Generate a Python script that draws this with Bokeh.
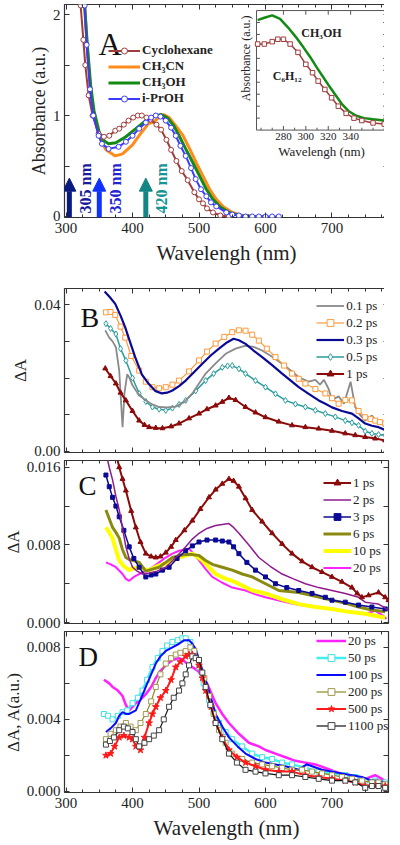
import math
from bokeh.plotting import figure
from bokeh.layouts import column
from bokeh.models import (Range1d, LinearAxis, FixedTicker, PrintfTickFormatter,
                          Legend, LegendItem, Label, Arrow, NormalHead)
from bokeh.core.properties import value
from bokeh.embed import file_html
from bokeh.resources import INLINE

SERIF = "Liberation Serif"

# ---------------- Panel A : steady-state absorption ----------------
cyc_wl = [320, 322, 326, 329, 334, 340, 349, 357, 365, 374, 380, 387, 394, 401, 408, 414, 421, 427, 436, 443,
          451, 458, 466, 474, 483, 493, 500, 506, 512, 521, 532, 545]
cyc_ab = [2.25, 2.09, 1.75, 1.50, 1.20, 1.00, 0.82, 0.79, 0.80, 0.85, 0.87, 0.91, 0.95, 0.98, 1.00, 1.00, 0.98, 0.96, 0.91, 0.86,
          0.76, 0.66, 0.55, 0.45, 0.36, 0.24, 0.17, 0.13, 0.08, 0.04, 0.01, 0.0]
acn_wl = [324, 328, 332, 337, 342, 350, 360, 374, 385, 400, 412, 424, 430, 440, 447, 455, 465, 476, 486, 496,
          506, 516, 526, 536, 550, 565, 585, 600]
acn_ab = [2.30, 2.09, 1.65, 1.25, 1.00, 0.79, 0.66, 0.60, 0.62, 0.71, 0.82, 0.92, 0.93, 0.98, 1.01, 0.98, 0.90, 0.80, 0.67, 0.53,
          0.40, 0.27, 0.17, 0.10, 0.04, 0.01, 0.0, 0.0]
meoh_wl = [324, 328, 332, 337, 342, 350, 357, 364, 375, 390, 405, 420, 432, 443, 452, 462, 470, 480, 491, 501,
           511, 521, 531, 545, 560, 580, 600]
meoh_ab = [2.30, 2.09, 1.70, 1.30, 1.05, 0.83, 0.75, 0.72, 0.73, 0.79, 0.87, 0.95, 0.99, 1.01, 0.98, 0.90, 0.80, 0.67, 0.53, 0.40,
           0.27, 0.17, 0.10, 0.04, 0.01, 0.0, 0.0]
ipr_wl = [322, 328, 331, 336, 341, 349, 354, 364, 379, 390, 400, 410, 420, 428, 435, 442, 450, 458, 465, 472,
          480, 488, 495, 503, 511, 518, 526, 541, 550, 560, 570, 580, 590, 600, 610, 620]
ipr_ab = [2.30, 2.09, 1.70, 1.26, 1.00, 0.80, 0.72, 0.67, 0.69, 0.74, 0.80, 0.87, 0.93, 0.98, 1.00, 0.99, 0.95, 0.88, 0.80, 0.70,
          0.60, 0.48, 0.37, 0.27, 0.20, 0.14, 0.10, 0.04, 0.02, 0.01, 0.0, 0.0, 0.0, 0.0, 0.0, 0.0]
solvent_labels = ["Cyclohexane", "CH\u2083CN", "CH\u2083OH", "i-PrOH"]

exc_wl = [305, 350, 420]
exc_labels = ["305 nm", "350 nm", "420 nm"]
exc_tip = 0.38

# inset (normalised to inset height)
ins_meoh_wl = [257, 263, 270, 277, 284, 291, 298, 304, 310, 315, 320, 326, 332, 338, 345, 352, 360, 370]
ins_meoh_ab = [0.92, 0.94, 0.96, 0.93, 0.86, 0.78, 0.69, 0.61, 0.52, 0.45, 0.38, 0.30, 0.22, 0.16, 0.12, 0.10, 0.09, 0.08]
ins_cyc_wl = [257, 263, 270, 275, 280, 286, 293, 300, 306, 311, 317, 323, 329, 336, 343, 350, 360, 370]
ins_cyc_ab = [0.72, 0.72, 0.74, 0.76, 0.76, 0.72, 0.65, 0.55, 0.48, 0.41, 0.34, 0.27, 0.20, 0.14, 0.10, 0.08, 0.06, 0.05]
ins_ticks = [280, 300, 320, 340]
ins_minor = [260, 270, 290, 310, 330, 350, 360, 370]
ins_yticks = [0.1, 0.2, 0.3, 0.4, 0.5, 0.6, 0.7, 0.8, 0.9]

# ---------------- Panel B ----------------
b01_wl = [359, 365, 370, 375, 380, 385, 388, 392, 395, 400, 405, 412, 420, 430, 440, 452, 465, 478, 490, 500,
          510, 525, 540, 555, 570, 582, 595, 610, 625, 640, 650, 665, 675, 682, 688, 695, 700, 710, 718, 728,
          735, 742, 750, 760, 768, 775, 783]
b01_da = [0.0330, 0.0310, 0.0300, 0.0284, 0.0220, 0.0066, 0.0160, 0.0210, 0.0202, 0.0180,
          0.0166, 0.0150, 0.0139, 0.0128, 0.0121, 0.0120, 0.0122, 0.0135, 0.0158, 0.0185,
          0.0212, 0.0240, 0.0266, 0.0280, 0.0288, 0.0285, 0.0275, 0.0258, 0.0239, 0.0218,
          0.0202, 0.0190, 0.0195, 0.0182, 0.0195, 0.0170, 0.0140, 0.0150, 0.0130, 0.0190,
          0.0120, 0.0100, 0.0084, 0.0098, 0.0080, 0.0076, 0.0060]
b02_wl = [360, 367, 374, 382, 389, 398, 410, 420, 430, 440, 450, 460, 470, 485, 500, 512, 525, 538, 550, 560,
          570, 580, 590, 602, 615, 628, 640, 650, 660, 675, 690, 700, 710, 720, 730, 740, 750, 758, 765, 772, 780]
b02_da = [0.0379, 0.0380, 0.0372, 0.0340, 0.0310, 0.0260, 0.0220, 0.0190, 0.0175, 0.0172,
          0.0175, 0.0182, 0.0193, 0.0218, 0.0248, 0.0272, 0.0294, 0.0312, 0.0325, 0.0330,
          0.0329, 0.0318, 0.0302, 0.0280, 0.0257, 0.0234, 0.0212, 0.0198, 0.0185, 0.0170,
          0.0158, 0.0145, 0.0130, 0.0140, 0.0139, 0.0110, 0.0093, 0.0088, 0.0084, 0.0080, 0.0076]
b03_wl = [358, 366, 374, 382, 389, 396, 404, 414, 424, 434, 444, 452, 460, 470, 480, 492, 505, 518, 530, 542,
          552, 560, 570, 582, 595, 610, 625, 638, 650, 665, 680, 690, 700, 715, 730, 740, 750, 760, 770, 782]
b03_da = [0.0436, 0.0420, 0.0402, 0.0370, 0.0338, 0.0300, 0.0257, 0.0210, 0.0185, 0.0165,
          0.0158, 0.0160, 0.0166, 0.0178, 0.0193, 0.0215, 0.0239, 0.0262, 0.0280, 0.0297,
          0.0307, 0.0303, 0.0293, 0.0275, 0.0257, 0.0235, 0.0212, 0.0193, 0.0175, 0.0157,
          0.0139, 0.0130, 0.0120, 0.0110, 0.0103, 0.0090, 0.0076, 0.0070, 0.0066, 0.0057]
b05_wl = [360, 367, 375, 382, 390, 400, 410, 420, 430, 440, 450, 460, 470, 480, 495, 510, 522, 535, 543, 550,
          560, 570, 585, 600, 615, 630, 645, 660, 675, 690, 705, 720, 730, 740, 750, 760, 770, 780]
b05_da = [0.0348, 0.0335, 0.0320, 0.0280, 0.0248, 0.0200, 0.0158, 0.0136, 0.0121, 0.0115,
          0.0112, 0.0118, 0.0128, 0.0139, 0.0165, 0.0193, 0.0212, 0.0229, 0.0233, 0.0234,
          0.0225, 0.0212, 0.0193, 0.0175, 0.0157, 0.0139, 0.0129, 0.0121, 0.0112, 0.0103,
          0.0094, 0.0084, 0.0078, 0.0071, 0.0055, 0.0049, 0.0046, 0.0044]
b1_wl = [359, 367, 375, 382, 390, 400, 410, 418, 425, 435, 445, 458, 470, 485, 500, 512, 525, 535, 545, 555,
         570, 585, 600, 620, 640, 660, 680, 700, 720, 735, 750, 765, 780]
b1_da = [0.0226, 0.0205, 0.0185, 0.0160, 0.0139, 0.0110, 0.0084, 0.0072, 0.0066, 0.0064,
         0.0063, 0.0068, 0.0076, 0.0090, 0.0103, 0.0115, 0.0125, 0.0135, 0.0146, 0.0140,
         0.0121, 0.0106, 0.0093, 0.0081, 0.0071, 0.0066, 0.0062, 0.0056, 0.0049, 0.0044,
         0.0039, 0.0035, 0.0030]
b_labels = ["0.1 ps", "0.2 ps", "0.3 ps", "0.5 ps", "1 ps"]

# ---------------- Panel C ----------------
c1_wl = [375, 380, 385, 390, 398, 405, 412, 420, 428, 435, 442, 450, 458, 465, 478, 490, 502, 515, 525, 535,
         545, 552, 560, 570, 580, 595, 610, 625, 640, 655, 670, 685, 700, 715, 730, 738, 745, 755, 770, 780, 785]
c1_da = [0.0175, 0.0160, 0.0148, 0.0136, 0.0115, 0.0098, 0.0083, 0.0071, 0.0068, 0.0067,
         0.0068, 0.0072, 0.0078, 0.0085, 0.0095, 0.0105, 0.0117, 0.0129, 0.0137, 0.0143,
         0.0148, 0.0146, 0.0140, 0.0128, 0.0116, 0.0104, 0.0092, 0.0081, 0.0071, 0.0063,
         0.0057, 0.0052, 0.0047, 0.0042, 0.0036, 0.0030, 0.0026, 0.0028, 0.0031, 0.0026, 0.0023]
c2_wl = [360, 365, 370, 375, 380, 385, 390, 395, 400, 407, 415, 425, 437, 450, 465, 480, 490, 500, 512, 525,
         535, 545, 552, 560, 575, 590, 607, 625, 642, 660, 680, 700, 720, 740, 750, 760, 770, 780, 785]
c2_da = [0.0175, 0.0160, 0.0147, 0.0130, 0.0116, 0.0097, 0.0078, 0.0066, 0.0057, 0.0053,
         0.0050, 0.0051, 0.0053, 0.0057, 0.0067, 0.0078, 0.0086, 0.0092, 0.0097, 0.0100,
         0.0101, 0.0102, 0.0098, 0.0092, 0.0080, 0.0067, 0.0058, 0.0050, 0.0045, 0.0040,
         0.0036, 0.0033, 0.0030, 0.0026, 0.0021, 0.0020, 0.0019, 0.0015, 0.0012]
c3_wl = [360, 365, 370, 375, 380, 387, 395, 402, 410, 420, 428, 435, 445, 455, 467, 480, 490, 500, 512, 525,
         535, 545, 552, 560, 572, 585, 600, 615, 632, 650, 670, 690, 700, 720, 740, 760, 780]
c3_da = [0.0152, 0.0140, 0.0129, 0.0120, 0.0109, 0.0095, 0.0078, 0.0066, 0.0057, 0.0047,
         0.0049, 0.0050, 0.0054, 0.0057, 0.0066, 0.0074, 0.0079, 0.0083, 0.0085, 0.0085,
         0.0084, 0.0083, 0.0078, 0.0071, 0.0062, 0.0054, 0.0047, 0.0040, 0.0036, 0.0033,
         0.0030, 0.0026, 0.0023, 0.0021, 0.0018, 0.0016, 0.0014]
c6_wl = [360, 365, 370, 375, 380, 385, 390, 395, 400, 410, 420, 430, 440, 450, 460, 470, 480, 490, 500, 510,
         520, 535, 550, 565, 580, 600, 620, 635, 650, 675, 700, 720, 740, 760, 780]
c6_da = [0.0116, 0.0107, 0.0098, 0.0093, 0.0087, 0.0075, 0.0067, 0.0065, 0.0064, 0.0062,
         0.0053, 0.0055, 0.0057, 0.0062, 0.0067, 0.0069, 0.0070, 0.0070, 0.0069, 0.0064,
         0.0060, 0.0057, 0.0054, 0.0050, 0.0047, 0.0040, 0.0033, 0.0032, 0.0031, 0.0027,
         0.0023, 0.0020, 0.0016, 0.0013, 0.0011]
c10_wl = [360, 365, 370, 375, 380, 387, 395, 402, 410, 418, 425, 437, 450, 460, 470, 480, 490, 497, 505, 515,
          525, 537, 550, 565, 580, 600, 625, 650, 675, 700, 725, 750, 765, 780]
c10_da = [0.0098, 0.0093, 0.0087, 0.0075, 0.0064, 0.0058, 0.0054, 0.0056, 0.0057, 0.0055,
          0.0054, 0.0058, 0.0061, 0.0064, 0.0067, 0.0069, 0.0071, 0.0068, 0.0064, 0.0057,
          0.0050, 0.0046, 0.0043, 0.0038, 0.0033, 0.0030, 0.0024, 0.0019, 0.0016, 0.0014,
          0.0011, 0.0009, 0.0007, 0.0005]
c20_wl = [360, 367, 375, 385, 390, 395, 402, 410, 420, 430, 440, 450, 460, 470, 478, 485, 492, 500, 510, 520,
          535, 550, 570, 585, 600, 625, 650, 675, 700, 725, 750, 765, 775, 782]
c20_da = [0.0062, 0.0060, 0.0057, 0.0050, 0.0045, 0.0043, 0.0047, 0.0050, 0.0053, 0.0057,
          0.0062, 0.0067, 0.0071, 0.0074, 0.0075, 0.0076, 0.0071, 0.0064, 0.0055, 0.0047,
          0.0041, 0.0036, 0.0033, 0.0029, 0.0026, 0.0022, 0.0018, 0.0016, 0.0014, 0.0011,
          0.0009, 0.0012, 0.0008, 0.0004]
c_labels = ["1 ps", "2 ps", "3 ps", "6 ps", "10 ps", "20 ps"]

# ---------------- Panel D ----------------
d20_wl = [357, 365, 370, 378, 385, 390, 395, 400, 405, 412, 420, 428, 435, 442, 450, 460, 470, 476, 482, 490,
          498, 505, 512, 518, 525, 535, 545, 560, 575, 590, 600, 615, 630, 645, 660, 675, 690, 705, 720, 735,
          750, 765, 775, 782]
d20_da = [0.0062, 0.0060, 0.0058, 0.0056, 0.0053, 0.0048, 0.0045, 0.0047, 0.0049, 0.0051,
          0.0054, 0.0058, 0.0063, 0.0067, 0.0070, 0.0073, 0.0074, 0.0073, 0.0071, 0.0069,
          0.0067, 0.0064, 0.0060, 0.0055, 0.0049, 0.0043, 0.0038, 0.0032, 0.0027, 0.0025,
          0.0023, 0.0021, 0.0019, 0.0017, 0.0016, 0.0015, 0.0013, 0.0011, 0.0009, 0.0008,
          0.0007, 0.0009, 0.0007, 0.0005]
d50_wl = [357, 363, 370, 378, 385, 392, 400, 408, 415, 422, 430, 438, 445, 452, 460, 468, 475, 480, 487, 493,
          500, 507, 515, 522, 530, 540, 550, 565, 580, 595, 610, 625, 640, 660, 680, 700, 720, 735, 750, 765, 780]
d50_da = [0.0043, 0.0042, 0.0040, 0.0042, 0.0044, 0.0045, 0.0049, 0.0052, 0.0056, 0.0062,
          0.0069, 0.0074, 0.0078, 0.0081, 0.0083, 0.0084, 0.0085, 0.0085, 0.0083, 0.0077,
          0.0069, 0.0060, 0.0051, 0.0044, 0.0038, 0.0033, 0.0029, 0.0025, 0.0021, 0.0019,
          0.0018, 0.0016, 0.0015, 0.0013, 0.0011, 0.0010, 0.0009, 0.0008, 0.0006, 0.0006, 0.0005]
d100_wl = [360, 367, 375, 380, 385, 390, 395, 400, 405, 412, 420, 428, 435, 442, 450, 460, 470, 478, 485, 490,
           495, 502, 510, 518, 525, 535, 545, 558, 570, 585, 600, 615, 630, 650, 662, 670, 685, 700, 715, 730,
           745, 760, 770, 780]
d100_da = [0.0033, 0.0035, 0.0038, 0.0042, 0.0044, 0.0043, 0.0043, 0.0044, 0.0045, 0.0051,
           0.0058, 0.0065, 0.0071, 0.0075, 0.0078, 0.0080, 0.0082, 0.0084, 0.0084, 0.0082,
           0.0079, 0.0071, 0.0062, 0.0052, 0.0043, 0.0036, 0.0030, 0.0025, 0.0021, 0.0018,
           0.0016, 0.0015, 0.0014, 0.0012, 0.0015, 0.0014, 0.0012, 0.0011, 0.0010, 0.0009,
           0.0008, 0.0006, 0.0006, 0.0005]
d200_wl = [360, 367, 375, 382, 390, 397, 405, 412, 420, 428, 435, 442, 450, 458, 465, 472, 480, 487, 493, 500,
           508, 515, 522, 530, 540, 550, 565, 580, 595, 610, 625, 640, 655, 670, 685, 700, 715, 730, 745, 760,
           770, 780]
d200_da = [0.0029, 0.0032, 0.0034, 0.0036, 0.0038, 0.0036, 0.0034, 0.0038, 0.0043, 0.0050,
           0.0058, 0.0065, 0.0071, 0.0074, 0.0076, 0.0077, 0.0078, 0.0080, 0.0078, 0.0073,
           0.0063, 0.0053, 0.0043, 0.0034, 0.0027, 0.0021, 0.0018, 0.0016, 0.0015, 0.0014,
           0.0013, 0.0012, 0.0012, 0.0011, 0.0010, 0.0009, 0.0008, 0.0007, 0.0006, 0.0005,
           0.0005, 0.0004]
d500_wl = [360, 367, 373, 380, 387, 395, 400, 405, 412, 418, 425, 430, 435, 442, 450, 458, 465, 472, 480, 485,
           490, 495, 500, 505, 510, 518, 525, 535, 545, 557, 570, 585, 600, 620, 640, 660, 680, 700, 720, 735,
           750, 765, 780]
d500_da = [0.0020, 0.0021, 0.0025, 0.0030, 0.0031, 0.0030, 0.0029, 0.0025, 0.0023, 0.0030,
           0.0038, 0.0043, 0.0047, 0.0052, 0.0056, 0.0062, 0.0069, 0.0072, 0.0075, 0.0076,
           0.0076, 0.0074, 0.0070, 0.0063, 0.0056, 0.0047, 0.0038, 0.0030, 0.0023, 0.0019,
           0.0016, 0.0014, 0.0012, 0.0011, 0.0011, 0.0009, 0.0008, 0.0007, 0.0006, 0.0005,
           0.0003, 0.0003, 0.0003]
d1100_wl = [360, 366, 372, 380, 387, 393, 400, 405, 410, 418, 425, 432, 440, 447, 455, 462, 470, 475, 480, 485,
            490, 495, 500, 505, 510, 517, 525, 535, 545, 557, 570, 585, 600, 620, 640, 660, 680, 700, 720, 735,
            750, 760, 770, 780]
d1100_da = [0.0026, 0.0028, 0.0030, 0.0034, 0.0036, 0.0035, 0.0033, 0.0029, 0.0025, 0.0027,
            0.0029, 0.0031, 0.0034, 0.0040, 0.0047, 0.0052, 0.0056, 0.0060, 0.0065, 0.0070,
            0.0075, 0.0074, 0.0073, 0.0066, 0.0058, 0.0048, 0.0038, 0.0029, 0.0021, 0.0016,
            0.0012, 0.0011, 0.0010, 0.0009, 0.0009, 0.0008, 0.0007, 0.0006, 0.0006, 0.0005,
            0.0002, 0.0003, 0.0003, 0.0002]
d_labels = ["20 ps", "50 ps", "100 ps", "200 ps", "500 ps", "1100 ps"]

# ---------------- ticks ----------------
x_major = [300, 400, 500, 600, 700]
x_minor = [325, 350, 375, 425, 450, 475, 525, 550, 575, 625, 650, 675, 725, 750, 775]
X_RANGE = (297.7, 785)
INK = "#222222"


def make_panel(height, top, bottom, y_lo, y_hi, y_major, y_minor, y_fmt, y_title,
               x_title=None, y_title_size="17px"):
    p = figure(frame_width=324, height=height,
               x_range=Range1d(*X_RANGE), y_range=Range1d(y_lo, y_hi),
               output_backend="svg", toolbar_location=None,
               min_border_left=58, min_border_right=2,
               min_border_top=top, min_border_bottom=bottom,
               background_fill_color="white", border_fill_color="white")
    p.xgrid.visible = False
    p.ygrid.visible = False
    p.outline_line_color = "#333333"
    p.outline_line_width = 1.2
    xt = FixedTicker(ticks=x_major, minor_ticks=x_minor)
    yt = FixedTicker(ticks=y_major, minor_ticks=y_minor)
    xa = p.xaxis[0]
    ya = p.yaxis[0]
    xa.ticker = xt
    ya.ticker = yt
    xa.formatter = PrintfTickFormatter(format="%d")
    ya.formatter = PrintfTickFormatter(format=y_fmt)
    top_ax = LinearAxis(ticker=xt)
    right_ax = LinearAxis(ticker=yt)
    p.add_layout(top_ax, "above")
    p.add_layout(right_ax, "right")
    for ax, mlen in ((xa, 3), (ya, 5), (top_ax, 3), (right_ax, 5)):
        ax.axis_line_color = None
        ax.major_tick_in = 5
        ax.major_tick_out = 0
        ax.minor_tick_in = mlen
        ax.minor_tick_out = 0
        ax.major_tick_line_color = "#333333"
        ax.minor_tick_line_color = "#333333"
        ax.major_label_text_font = SERIF
        ax.major_label_text_font_size = "15px"
        ax.major_label_text_color = INK
        ax.axis_label_text_font = SERIF
        ax.axis_label_text_font_style = "normal"
        ax.axis_label_text_color = INK
    hidden = [top_ax, right_ax] + ([] if x_title else [xa])
    for ax in hidden:
        ax.major_label_text_color = None
        ax.major_label_text_font_size = "1px"
        ax.major_label_standoff = 0
    ya.major_label_standoff = 4
    ya.axis_label = y_title
    ya.axis_label_text_font_size = y_title_size
    ya.axis_label_standoff = 1
    if x_title:
        xa.axis_label = x_title
        xa.axis_label_text_font_size = "21px"
    return p


def series(p, wl, da, color, lw=2.0, marker=None, msize=5, mfill="white", mline=None, mlw=1.0):
    rs = [p.line(wl, da, line_color=color, line_width=lw)]
    if marker:
        rs.append(p.scatter(wl, da, marker=marker, size=msize, fill_color=mfill,
                            line_color=mline or color, line_width=mlw))
    return rs


def add_legend(p, labels, rlists, loc, glyph_w=28, row_h=17, size="13px", style="normal", spacing=0):
    items = [LegendItem(label=lab, renderers=rs) for lab, rs in zip(labels, rlists)]
    leg = Legend(items=items, location=loc, orientation="vertical",
                 border_line_color=None, background_fill_alpha=0,
                 label_text_font=SERIF, label_text_font_size=size, label_text_font_style=style,
                 label_text_color=INK, glyph_width=glyph_w, glyph_height=row_h,
                 label_height=row_h, spacing=spacing, padding=0, margin=0, label_standoff=2)
    p.add_layout(leg)


def panel_label(p, text, x, y, size):
    p.add_layout(Label(x=x, y=y, x_units="screen", y_units="screen", text=text,
                       text_font=SERIF, text_font_size=size, text_color="#111111",
                       text_baseline="alphabetic"))


# ================= Panel A =================
pA = make_panel(267, 4, 50, -0.01, 2.10, [0, 1, 2], [0.5, 1.5], "%.0f", "Absorbance (a.u.)",
                x_title="Wavelengh (nm)", y_title_size="18px")
pA.xaxis[0].major_label_standoff = 8
pA.xaxis[0].axis_label_standoff = 4
C_CYC, C_ACN, C_MEOH, C_IPR = "#a03c3c", "#ff8c1a", "#138a13", "#3b3bff"
r_acn = series(pA, acn_wl, acn_ab, C_ACN, lw=3)
r_meoh = series(pA, meoh_wl, meoh_ab, C_MEOH, lw=3)
r_cyc = series(pA, cyc_wl, cyc_ab, C_CYC, lw=2, marker="circle", msize=5)
r_ipr = series(pA, ipr_wl, ipr_ab, C_IPR, lw=2, marker="circle", msize=5)
add_legend(pA, solvent_labels, [r_cyc, r_acn, r_meoh, r_ipr], (62, 111), glyph_w=32,
           row_h=15, size="13px", style="bold", spacing=-1)

arrow_cols = ["#0b1a80", "#1030ff", "#138585"]
text_cols = ["#1a1a9c", "#2424d0", "#149494"]
for wl, c in zip(exc_wl, arrow_cols):
    pA.add_layout(Arrow(end=NormalHead(size=13, fill_color=c, line_color=c),
                        x_start=wl, y_start=-0.01, x_end=wl, y_end=exc_tip,
                        line_color=c, line_width=5))
pA.text(x=exc_wl, y=[0.03] * 3, text=exc_labels, angle=math.pi / 2, x_offset=16,
        text_align="left", text_baseline="middle", text_font=value(SERIF),
        text_font_style="bold", text_font_size="16px", text_color=text_cols)
panel_label(pA, "A", 34, 174, "32px")

# inset
ins = pA.subplot(x_source=Range1d(256, 372), y_source=Range1d(0, 1),
                 x_target=Range1d(586.5, 782), y_target=Range1d(0.856, 2.04))
ins.quad(left=[256], right=[372], bottom=[0], top=[1], fill_color="white",
         line_color="#555555", line_width=1)
ins.segment(x0=ins_ticks, y0=[0] * 4, x1=ins_ticks, y1=[0.035] * 4, line_color="#555555")
ins.segment(x0=ins_minor, y0=[0] * 8, x1=ins_minor, y1=[0.02] * 8, line_color="#555555")
ins.segment(x0=ins_ticks, y0=[1] * 4, x1=ins_ticks, y1=[0.965] * 4, line_color="#555555")
ins.segment(x0=[372] * 9, y0=ins_yticks, x1=[369] * 9, y1=ins_yticks, line_color="#555555")
ins.segment(x0=[256] * 9, y0=ins_yticks, x1=[259] * 9, y1=ins_yticks, line_color="#555555")
ins.line(ins_meoh_wl, ins_meoh_ab, line_color=C_MEOH, line_width=2.5)
ins.line(ins_cyc_wl, ins_cyc_ab, line_color=C_CYC, line_width=1.5)
ins.scatter(ins_cyc_wl, ins_cyc_ab, marker="square", size=4.5, fill_color="white",
            line_color=C_CYC, line_width=1)
ins.text(x=ins_ticks, y=[0] * 4, text=[str(t) for t in ins_ticks], y_offset=3,
         text_align="center", text_baseline="top", text_font=value(SERIF),
         text_font_size="11px", text_color=INK)
ins.text(x=[314], y=[0], text=["Wavelengh (nm)"], y_offset=14, text_align="center",
         text_baseline="top", text_font=value(SERIF), text_font_size="13px", text_color=INK)
ins.text(x=[256], y=[0.6], text=["Absorbance (a.u.)"], angle=math.pi / 2, x_offset=-4,
         text_align="center", text_baseline="bottom", text_font=value(SERIF),
         text_font_size="12px", text_color=INK)
ins.text(x=[296, 270.5], y=[0.81, 0.45], text=["CH\u2083OH", "C\u2086H\u2081\u2082"],
         text_align="left", text_baseline="middle", text_font=value(SERIF),
         text_font_style="bold", text_font_size="12px", text_color=INK)

# ================= Panel B =================
pB = make_panel(193, 21, 8, -0.0003, 0.0444, [0, 0.04], [0.01, 0.02, 0.03], "%.2f", "\u0394A")
rb05 = series(pB, b05_wl, b05_da, "#2a9d9d", lw=1.5, marker="diamond", msize=6)
rb01 = series(pB, b01_wl, b01_da, "#8a8a8a", lw=1.8)
rb02 = series(pB, b02_wl, b02_da, "#ff9a3c", lw=1.2, marker="square", msize=5)
rb03 = series(pB, b03_wl, b03_da, "#0a0a96", lw=2.2)
rb1 = series(pB, b1_wl, b1_da, "#8b0a0a", lw=2, marker="triangle", msize=5, mfill="#8b0a0a")
add_legend(pB, b_labels, [rb01, rb02, rb03, rb05, rb1], (259, 70), glyph_w=28, row_h=17)
panel_label(pB, "B", 16, 135, "28px")

# ================= Panel C =================
pC = make_panel(171, 0, 8, -0.0001, 0.0167, [0, 0.008, 0.016], [0.004, 0.012], "%.3f", "\u0394A")
rc20 = series(pC, c20_wl, c20_da, "#ff22ff", lw=2)
rc10 = series(pC, c10_wl, c10_da, "#ffff00", lw=4)
rc6 = series(pC, c6_wl, c6_da, "#8a8a10", lw=3)
rc3 = series(pC, c3_wl, c3_da, "#0a0a96", lw=1.5, marker="square", msize=4, mfill="#0a0a96")
rc2 = series(pC, c2_wl, c2_da, "#8e1a8e", lw=1.5)
rc1 = series(pC, c1_wl, c1_da, "#8b0a0a", lw=2, marker="triangle", msize=5, mfill="#8b0a0a")
add_legend(pC, c_labels, [rc1, rc2, rc3, rc6, rc10, rc20], (259, 47), glyph_w=28, row_h=17)
panel_label(pC, "C", 14, 138, "27px")

# ================= Panel D =================
pD = make_panel(211, 0, 40, -0.00006, 0.00888, [0, 0.004, 0.008], [0.002, 0.006], "%.3f",
                "\u0394A, A(a.u.)", x_title="Wavelength (nm)")
pD.xaxis[0].major_label_standoff = 4
pD.xaxis[0].axis_label_standoff = -3
rd20 = series(pD, d20_wl, d20_da, "#ff22ff", lw=2.5)
rd50 = series(pD, d50_wl, d50_da, "#40f0f0", lw=2.5, marker="square", msize=5, mline="#40e0e0")
rd100 = series(pD, d100_wl, d100_da, "#0a0aff", lw=2)
rd200 = series(pD, d200_wl, d200_da, "#8a8a20", lw=1.2, marker="square", msize=5, mline="#a09a50")
rd500 = series(pD, d500_wl, d500_da, "#ff1a1a", lw=2, marker="star", msize=7, mfill="#ff1a1a")
rd1100 = series(pD, d1100_wl, d1100_da, "#111111", lw=1.2, marker="square", msize=5, mline="#444444")
add_legend(pD, d_labels, [rd20, rd50, rd100, rd200, rd500, rd1100], (252, 58), glyph_w=30, row_h=17)
panel_label(pD, "D", 14, 136, "27px")

layout = column(pA, pB, pC, pD, spacing=0)
open("out.html", "w").write(file_html(layout, INLINE))
